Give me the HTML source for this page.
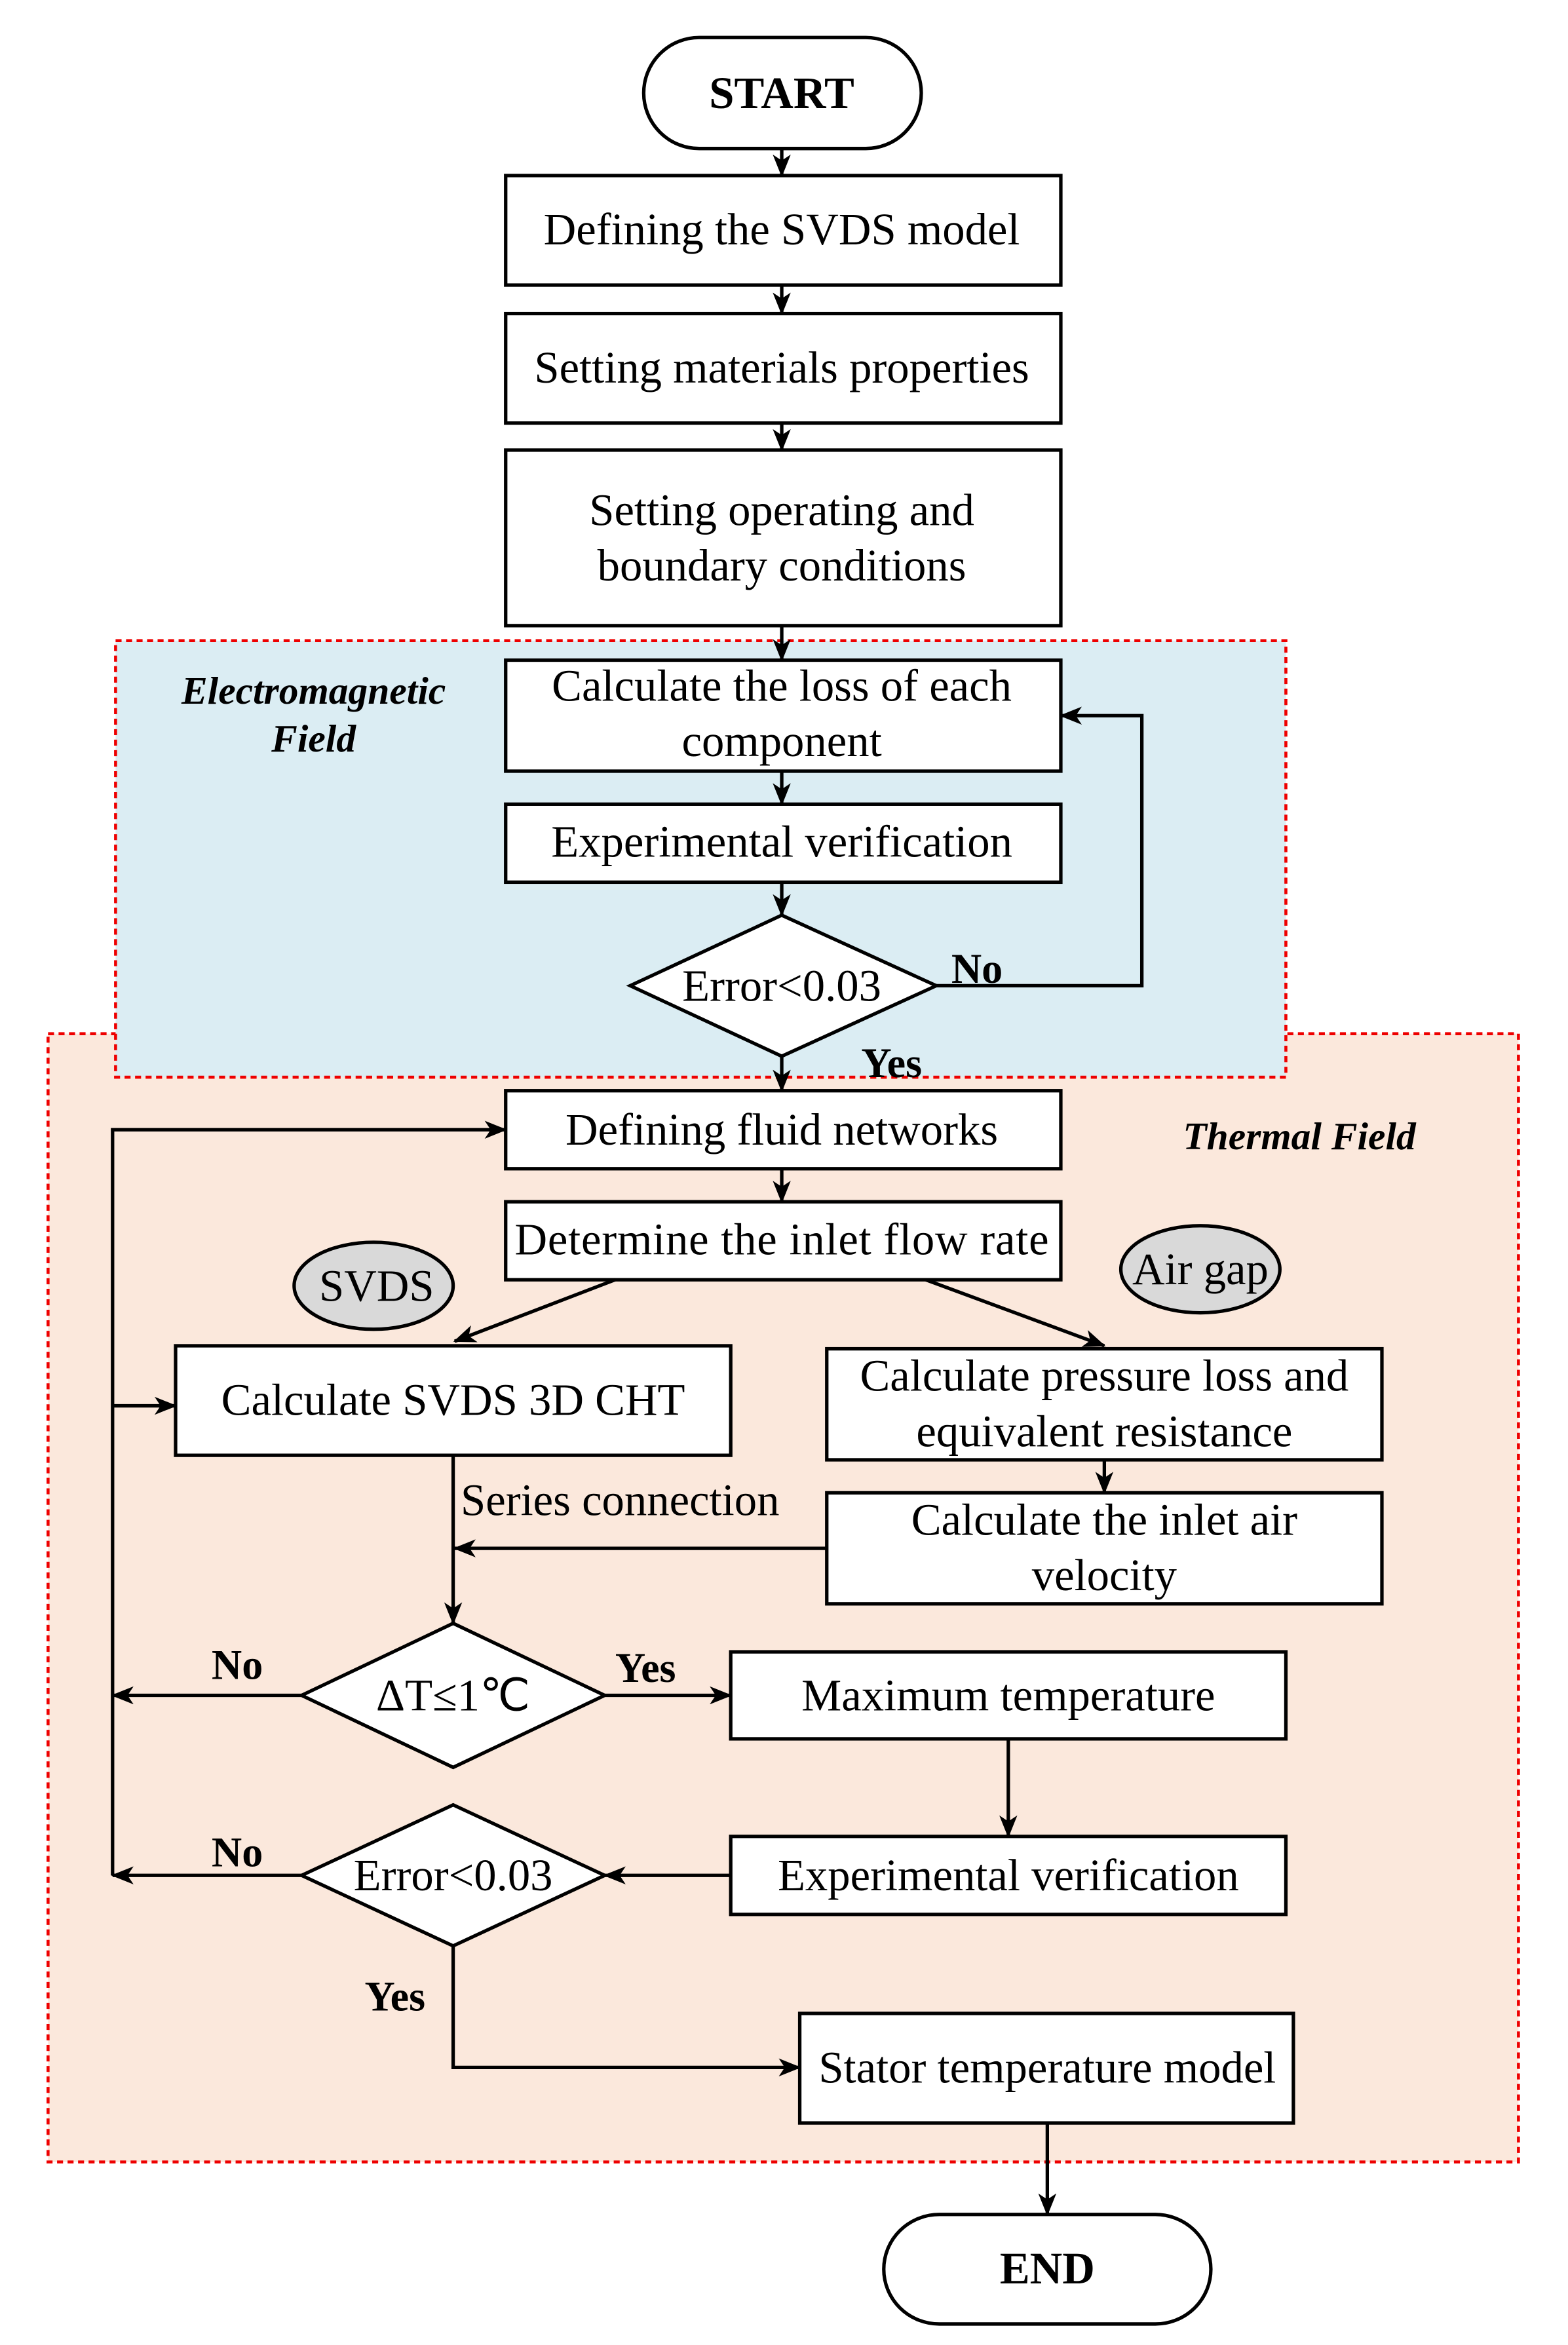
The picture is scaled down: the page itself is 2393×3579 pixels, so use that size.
<!DOCTYPE html>
<html><head><meta charset="utf-8"><style>html,body{margin:0;padding:0;background:#fff}svg{display:block}</style></head>
<body>
<svg width="2393" height="3579" viewBox="0 0 1045 1563" xmlns="http://www.w3.org/2000/svg" font-family="Liberation Serif, serif" font-size="30">
<defs><marker id="a" markerWidth="15" markerHeight="12" refX="14" refY="6" orient="auto" markerUnits="userSpaceOnUse"><path d="M0,0 L15,6 L0,12 L4,6 z" fill="#000"/></marker></defs>
<rect x="32" y="689" width="980" height="752" fill="#fbe8dc" stroke="#e00" stroke-width="2" stroke-dasharray="4,3"/>
<rect x="77" y="427" width="780" height="291" fill="#dbedf3" stroke="#e00" stroke-width="2" stroke-dasharray="4,3"/>
<g stroke="#000" stroke-width="2.3" fill="#fff">
<rect x="429" y="25" width="185" height="74" rx="37"/>
<rect x="337" y="117" width="370" height="73"/>
<rect x="337" y="209" width="370" height="73"/>
<rect x="337" y="300" width="370" height="117"/>
<rect x="337" y="440" width="370" height="74"/>
<rect x="337" y="536" width="370" height="52"/>
<path d="M420,657 L521,610 L624,657 L521,704 z"/>
<rect x="337" y="727" width="370" height="52"/>
<rect x="337" y="801" width="370" height="52"/>
<ellipse cx="249" cy="857" rx="53" ry="29" fill="#d9d9d9"/>
<ellipse cx="800" cy="846" rx="53" ry="29" fill="#d9d9d9"/>
<rect x="117" y="897" width="370" height="73"/>
<rect x="551" y="899" width="370" height="74"/>
<rect x="551" y="995" width="370" height="74"/>
<path d="M201,1130 L302,1082 L403,1130 L302,1178 z"/>
<rect x="487" y="1101" width="370" height="58"/>
<rect x="487" y="1224" width="370" height="52"/>
<path d="M201,1250 L302,1203 L403,1250 L302,1297 z"/>
<rect x="533" y="1342" width="329" height="73"/>
<rect x="589" y="1476" width="218" height="73" rx="37"/>
</g>
<g stroke="#000" stroke-width="2.3" fill="none" marker-end="url(#a)">
<path d="M521,99 V117"/><path d="M521,190 V209"/><path d="M521,282 V300"/><path d="M521,417 V440"/>
<path d="M521,514 V536"/><path d="M521,588 V610"/>
<path d="M624,657 H761 V477 H707"/>
<path d="M521,704 V727"/><path d="M521,779 V801"/>
<path d="M410,853 L303,894"/><path d="M617,853 L736,897"/>
<path d="M736,973 V995"/>
<path d="M302,970 V1082"/><path d="M551,1032 H303"/>
<path d="M403,1130 H487"/><path d="M672,1159 V1224"/><path d="M487,1250 H403"/>
<path d="M302,1297 V1378 H533"/><path d="M698,1415 V1476"/>
<path d="M201,1130 H75"/><path d="M201,1250 H75"/>
<path d="M75,1250 V753 H337"/><path d="M75,937 H117"/>
</g>
<g text-anchor="middle">
<text x="521" y="72" font-weight="bold">START</text>
<text x="521" y="163">Defining the SVDS model</text>
<text x="521" y="255">Setting materials properties</text>
<text x="521" y="350">Setting operating and</text>
<text x="521" y="387">boundary conditions</text>
<text x="521" y="467">Calculate the loss of each</text>
<text x="521" y="504">component</text>
<text x="521" y="571">Experimental verification</text>
<text x="521" y="667">Error&lt;0.03</text>
<text x="521" y="763">Defining fluid networks</text>
<text x="521" y="836" textLength="356">Determine the inlet flow rate</text>
<text x="251" y="867">SVDS</text>
<text x="800" y="856">Air gap</text>
<text x="302" y="943">Calculate SVDS 3D CHT</text>
<text x="736" y="927">Calculate pressure loss and</text>
<text x="736" y="964">equivalent resistance</text>
<text x="736" y="1023">Calculate the inlet air</text>
<text x="736" y="1060">velocity</text>
<text x="302" y="1140">ΔT≤1℃</text>
<text x="672" y="1140">Maximum temperature</text>
<text x="672" y="1260">Experimental verification</text>
<text x="302" y="1260">Error&lt;0.03</text>
<text x="698" y="1388">Stator temperature model</text>
<text x="698" y="1522" font-weight="bold">END</text>
<text x="209" y="469" font-weight="bold" font-style="italic" font-size="26">Electromagnetic</text>
<text x="209" y="501" font-weight="bold" font-style="italic" font-size="26">Field</text>
<text x="866" y="766" font-weight="bold" font-style="italic" font-size="26">Thermal Field</text>
</g>
<g font-weight="bold" font-size="28">
<text x="634" y="655">No</text>
<text x="574" y="718">Yes</text>
<text x="141" y="1119">No</text>
<text x="410" y="1121">Yes</text>
<text x="141" y="1244">No</text>
<text x="243" y="1340">Yes</text>
</g>
<text x="307" y="1010">Series connection</text>
</svg>
</body></html>
